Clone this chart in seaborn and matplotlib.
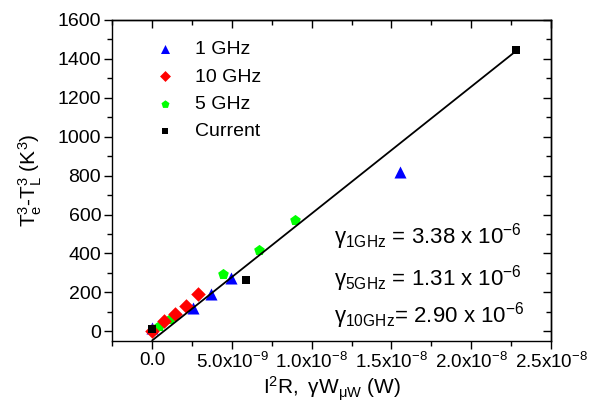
import numpy as np
import pandas as pd
import matplotlib
matplotlib.use("Agg")
import matplotlib.pyplot as plt
import seaborn as sns
from matplotlib.ticker import MultipleLocator, FuncFormatter

# ---- data ----
ghz1_x = [0.0, 2.56e-9, 3.69e-9, 4.94e-9, 1.556e-8]
ghz1_y = [15, 120, 193, 274, 820]
ghz10_x = [0.0, 0.73e-9, 1.46e-9, 2.14e-9, 2.85e-9]
ghz10_y = [0, 51, 89, 128, 193]
ghz5_x = [0.42e-9, 1.10e-9, 4.44e-9, 6.67e-9, 8.96e-9]
ghz5_y = [26, 64, 295, 419, 570]
cur_x = [0.0, 5.9e-9, 2.28e-8]
cur_y = [12, 265, 1446]
fit_x = [0.0, 2.28e-8]
fit_y = [-47, 1440]

series_names = ["1 GHz", "10 GHz", "5 GHz", "Current"]
gamma_labels = [r"$\mathrm{\gamma_{1GHz}}$ = 3.38 x $\mathrm{10^{-6}}$",
                r"$\mathrm{\gamma_{5GHz}}$ = 1.31 x $\mathrm{10^{-6}}$",
                r"$\mathrm{\gamma_{10GHz}}$= 2.90 x $\mathrm{10^{-6}}$"]

sns.set_theme(style="ticks")
plt.rcParams["font.family"] = ["Liberation Sans", "DejaVu Sans"]
plt.rcParams["mathtext.fontset"] = "custom"
plt.rcParams["mathtext.rm"] = "Liberation Sans"
plt.rcParams["mathtext.it"] = "Liberation Sans:italic"
plt.rcParams["mathtext.bf"] = "Liberation Sans:bold"
plt.rcParams["mathtext.sf"] = "Liberation Sans"
plt.rcParams["axes.linewidth"] = 1.0
for k in ["text.color", "axes.labelcolor", "xtick.color", "ytick.color",
          "axes.edgecolor", "xtick.labelcolor", "ytick.labelcolor"]:
    plt.rcParams[k] = "black"

fig = plt.figure(figsize=(5.98, 4.03), dpi=100)
ax = fig.add_axes([0.1878, 0.1538, 0.9214 - 0.1878, 0.9504 - 0.1538])

specs = [
    (ghz1_x, ghz1_y, "1 GHz", "^", "#0000ff", 75, 2.0),
    (ghz10_x, ghz10_y, "10 GHz", "D", "#ff0000", 55, 2.2),
    (ghz5_x, ghz5_y, "5 GHz", "p", "#00ff00", 65, 2.1),
    (cur_x, cur_y, "Current", "s", "#000000", 40, 2.3),
]
for xs, ys, name, mk, col, s, z in specs:
    sns.scatterplot(x=xs, y=ys, marker=mk, color=col, s=s, linewidth=0,
                    label=name, ax=ax, zorder=z)

sns.lineplot(x=fit_x, y=fit_y, color="black", linewidth=1.3, ax=ax,
             legend=False, zorder=3)

ax.set_xlim(-2.5e-9, 2.5e-8)
ax.set_ylim(-50, 1600)

def xfmt(v, pos):
    if abs(v) < 1e-15:
        return "0.0"
    e = int(np.floor(np.log10(abs(v))))
    m = v / 10**e
    return r"%.1fx$\mathrm{10^{%d}}$" % (m, e)

ax.xaxis.set_major_locator(MultipleLocator(5e-9))
ax.xaxis.set_minor_locator(MultipleLocator(2.5e-9))
ax.xaxis.set_major_formatter(FuncFormatter(xfmt))
ax.yaxis.set_major_locator(MultipleLocator(200))
ax.yaxis.set_minor_locator(MultipleLocator(100))
ax.tick_params(which="major", direction="out", length=6, width=1.0,
               labelsize=14, colors="black", pad=2)
ax.tick_params(which="minor", direction="out", length=3.5, width=1.0, colors="black")
ax.tick_params(axis="x", labelsize=13.5)

for sp in ax.spines.values():
    sp.set_visible(True)
    sp.set_color("black")

top = ax.secondary_xaxis("top")
top.xaxis.set_major_locator(MultipleLocator(5e-9))
top.xaxis.set_minor_locator(MultipleLocator(2.5e-9))
top.tick_params(which="major", direction="in", length=6, width=1.0, labeltop=False, colors="black")
top.tick_params(which="minor", direction="in", length=3.5, width=1.0, colors="black")
right = ax.secondary_yaxis("right")
right.yaxis.set_major_locator(MultipleLocator(200))
right.yaxis.set_minor_locator(MultipleLocator(100))
right.tick_params(which="major", direction="in", length=6, width=1.0, labelright=False, colors="black")
right.tick_params(which="minor", direction="in", length=3.5, width=1.0, colors="black")

ax.set_ylabel(r"$\mathrm{T_e^3}$-$\mathrm{T_L^3}$ (K$\mathrm{^3}$)", fontsize=15, labelpad=10)
ax.set_xlabel(r"$\mathrm{I^2R,\ \gamma W_{\mu W}}$ (W)", fontsize=15, labelpad=2)

leg = ax.legend(loc="upper left", bbox_to_anchor=(0.08, 0.96), frameon=False,
                fontsize=14, markerscale=0.75, handletextpad=1.05,
                labelspacing=0.5, handlelength=1.0, borderaxespad=0)

ys_txt = [0.325, 0.196, 0.08]
for lab, yy in zip(gamma_labels, ys_txt):
    ax.text(0.505, yy, lab, transform=ax.transAxes, fontsize=16,
            ha="left", va="center", color="black")

fig.savefig("out.png", dpi=100)
